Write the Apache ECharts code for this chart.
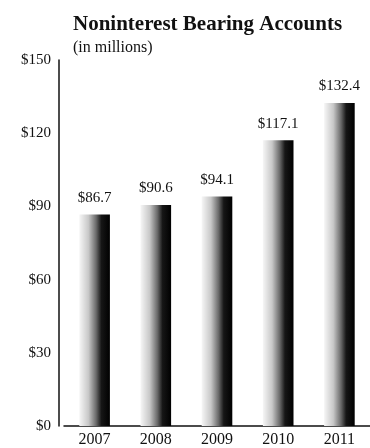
<!DOCTYPE html>
<html>
<head>
<meta charset="utf-8">
<script src="https://cdn.jsdelivr.net/npm/echarts@6/dist/echarts.min.js"></script>
<style>
  html, body { margin: 0; padding: 0; background: #fff; }
  #chart { width: 370px; height: 448px; }
</style>
</head>
<body>
<div id="chart"></div>
<script>
// Year-end noninterest bearing account balances, $ millions
const years = ['2007', '2008', '2009', '2010', '2011'];
const balances = [86.7, 90.6, 94.1, 117.1, 132.4];
const yTicks = [0, 30, 60, 90, 120, 150];

const serif = '"Liberation Serif", "DejaVu Serif", serif';

// Shaded column fill: pale on the left, deepening to black on the right
const barFill = new echarts.graphic.LinearGradient(0, 0, 1, 0, [
  { offset: 0, color: '#f6f6f6' },
  { offset: 0.3, color: '#c8c8c8' },
  { offset: 0.55, color: '#6a6a6a' },
  { offset: 0.72, color: '#161616' },
  { offset: 1, color: '#000000' }
]);

const chart = echarts.init(document.getElementById('chart'), null, { renderer: 'canvas' });
chart.setOption({
  animation: false,
  backgroundColor: '#ffffff',
  title: {
    text: 'Noninterest Bearing Accounts',
    subtext: '(in millions)',
    left: 68,
    top: 9,
    itemGap: 5,
    textStyle: { fontFamily: serif, fontSize: 21, fontWeight: 'bold', color: '#111' },
    subtextStyle: { fontFamily: serif, fontSize: 16, color: '#111' }
  },
  grid: { left: 64, right: -4, top: 60, bottom: 18 },
  xAxis: {
    type: 'category',
    data: years,
    axisLine: { show: true, lineStyle: { color: '#111', width: 1.5 } },
    axisTick: { show: false },
    axisLabel: { fontFamily: serif, fontSize: 16, color: '#111', margin: 6 }
  },
  yAxis: {
    type: 'value',
    min: yTicks[0],
    max: yTicks[yTicks.length - 1],
    interval: 30,
    offset: 5,
    axisLine: { show: true, lineStyle: { color: '#111', width: 1.5 } },
    axisTick: { show: false },
    splitLine: { show: false },
    axisLabel: {
      fontFamily: serif, fontSize: 15, color: '#111', margin: 8,
      formatter: v => '$' + v
    }
  },
  series: [{
    type: 'bar',
    data: balances,
    barWidth: '50%',
    itemStyle: { color: barFill },
    label: {
      show: true,
      position: 'top',
      distance: 9,
      fontFamily: serif,
      fontSize: 15,
      color: '#111',
      formatter: p => '$' + p.value.toFixed(1)
    }
  }]
});
</script>
</body>
</html>
